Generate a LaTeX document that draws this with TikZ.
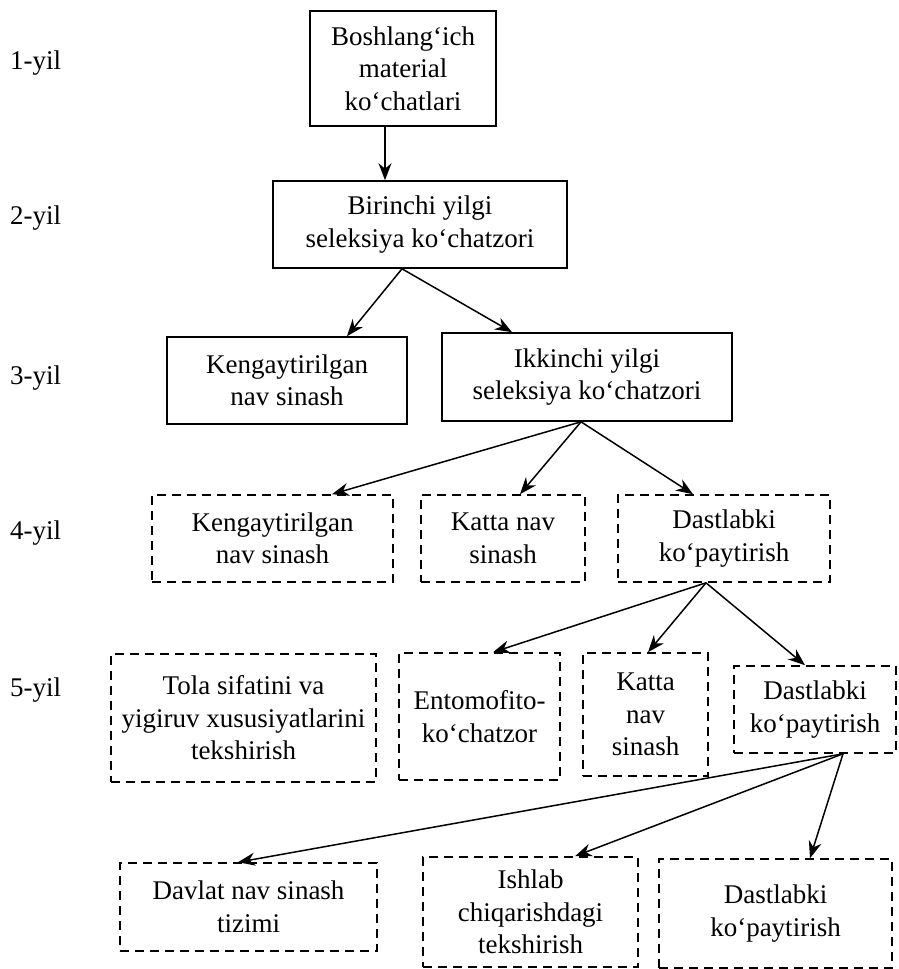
\documentclass[tikz,border=0pt]{standalone}
\usepackage{fontspec}
\setmainfont{Liberation Serif}
\usepackage{tikz}
\usetikzlibrary{arrows.meta}

\tikzset{
  solidbox/.style={draw,line width=1.6pt,align=center,inner sep=0pt},
  planbox/.style={draw,line width=1.6pt,dash pattern=on 9pt off 6pt,align=center,inner sep=0pt},
  arr/.style={line width=1.5pt,-{Stealth[length=17pt,width=13pt]}},
  yil/.style={anchor=west,inner sep=0pt}
}

\begin{document}
\begin{tikzpicture}[x=1pt,y=-1pt,font=\fontsize{27pt}{32.5pt}\selectfont]
                \useasboundingbox (0,0) rectangle (899,969);
                % years
                \node[yil] (y1) at (10,63) {1-yil};
                \node[yil] (y2) at (10,218) {2-yil};
                \node[yil] (y3) at (10,378) {3-yil};
                \node[yil] (y4) at (10,533) {4-yil};
                \node[yil] (y5) at (10,690) {5-yil};
                % solid boxes
                \node[solidbox,minimum width=186pt,minimum height=115pt] (b1) at (403,68.5) {Boshlang‘ich\\material\\ko‘chatlari};
                \node[solidbox,minimum width=294pt,minimum height=87pt] (b2) at (420,224.5) {Birinchi yilgi\\seleksiya ko‘chatzori};
                \node[solidbox,minimum width=240pt,minimum height=87pt] (b3a) at (287,380.5) {Kengaytirilgan\\nav sinash};
                \node[solidbox,minimum width=290pt,minimum height=88pt] (b3b) at (587,377) {Ikkinchi yilgi\\seleksiya ko‘chatzori};
                % dashed boxes
                \node[planbox,minimum width=241pt,minimum height=87pt] (d4a) at (272.5,538.5) {Kengaytirilgan\\nav sinash};
                \node[planbox,minimum width=164pt,minimum height=87pt] (d4b) at (503,538.5) {Katta nav\\sinash};
                \node[planbox,minimum width=212pt,minimum height=87pt] (d4c) at (724,538.5) {Dastlabki\\ko‘paytirish};
                \node[planbox,minimum width=265pt,minimum height=128pt] (d5a) at (243.5,718) {Tola sifatini va\\yigiruv xususiyatlarini\\tekshirish};
                \node[planbox,minimum width=161pt,minimum height=127pt] (d5b) at (479.5,716.5) {Entomofito-\\ko‘chatzor};
                \node[planbox,minimum width=125pt,minimum height=123pt] (d5c) at (645.5,714.5) {Katta\\nav\\sinash};
                \node[planbox,minimum width=162pt,minimum height=87pt] (d5d) at (815,709.5) {Dastlabki\\ko‘paytirish};
                \node[planbox,minimum width=257pt,minimum height=88pt] (d6a) at (248.5,907) {Davlat nav sinash\\tizimi};
                \node[planbox,minimum width=215pt,minimum height=110pt] (d6b) at (530.5,912) {Ishlab\\chiqarishdagi\\tekshirish};
                \node[planbox,minimum width=233pt,minimum height=109pt] (d6c) at (775.5,913.5) {Dastlabki\\ko‘paytirish};
                % arrows
                \draw[arr] ([xshift=-18pt]b1.south) -- ([xshift=-35pt]b2.north);
                \draw[arr] ([xshift=-18pt]b2.south) -- ([xshift=60pt]b3a.north);
                \draw[arr] ([xshift=-18pt]b2.south) -- ([xshift=-75pt]b3b.north);
                \foreach \t/\s in {d4a/59.5,d4b/17,d4c/-31}
                    \draw[arr] ([xshift=-6pt]b3b.south) -- ([xshift=\s pt]\t.north);
                \foreach \t/\s in {d5b/13.5,d5c/2.5,d5d/-10}
                    \draw[arr] ([xshift=-18pt]d4c.south) -- ([xshift=\s pt]\t.north);
                \foreach \t/\s in {d6a/-10.5,d6b/44.5,d6c/34.5}
                    \draw[arr] ([xshift=28pt]d5d.south) -- ([xshift=\s pt]\t.north);
            \end{tikzpicture}
\end{document}
